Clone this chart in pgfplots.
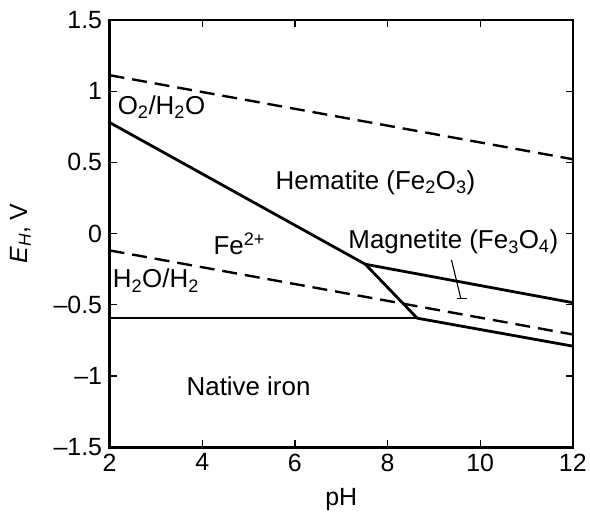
\documentclass[border=0pt]{standalone}
\usepackage{pgfplots}
\pgfplotsset{compat=1.18}
\usepackage{fontspec}
\setmainfont{Liberation Sans}
\begin{document}
\begin{tikzpicture}[font=\fontsize{25bp}{29bp}\selectfont]
\begin{axis}[
  scale only axis, width=465bp, height=429bp,
  xmin=2, xmax=12, ymin=-1.5, ymax=1.5,
  xtick={2,4,6,8,10,12},
  ytick={-1.5,-1,-0.5,0,0.5,1,1.5},
  yticklabels={\textendash1.5,\textendash1,\textendash0.5,0,0.5,1,1.5},
  /pgf/number format/assume math mode=true,
  tick align=inside,
  major tick length=7bp,
  axis line style={line width=2.4bp},
  tick style={line width=1.3bp, black},
  xlabel={pH},
  ylabel={\textit{E}\textsubscript{\textit{H}}, V},
  xticklabel style={yshift=-3bp},
  yticklabel style={xshift=-4bp},
  xlabel style={yshift=-10bp},
  ylabel style={yshift=16bp},
]
% water stability lines
\addplot[black, line width=2.4bp, dash pattern=on 15bp off 8bp] coordinates {(2,1.112) (12,0.522)};
\addplot[black, line width=2.4bp, dash pattern=on 15bp off 8bp] coordinates {(2,-0.118) (12,-0.708)};
% Hematite / Fe2+
\addplot[black, line width=2.8bp] coordinates {(2,0.78) (7.52,-0.215)};
% Hematite / Magnetite
\addplot[black, line width=2.8bp] coordinates {(7.52,-0.215) (12,-0.485)};
% Magnetite / Fe2+
\addplot[black, line width=2.8bp] coordinates {(7.52,-0.215) (8.63,-0.59)};
% Fe / Fe2+
\addplot[black, line width=2.8bp] coordinates {(2,-0.593) (8.63,-0.593)};
% Fe / Magnetite
\addplot[black, line width=2.8bp] coordinates {(8.63,-0.593) (12,-0.79)};
% leader for magnetite label
\draw[black, line width=1.1bp] (axis cs:9.38,-0.185) -- (axis cs:9.58,-0.453);
\draw[black, line width=1.1bp] (axis cs:9.49,-0.453) -- (axis cs:9.72,-0.453);
% labels
\begin{scope}[font=\fontsize{26bp}{30bp}\selectfont]
\node at (axis cs:3.12,0.89) {O\textsubscript{2}/H\textsubscript{2}O};
\node at (axis cs:7.74,0.36) {Hematite (Fe\textsubscript{2}O\textsubscript{3})};
\node at (axis cs:4.8,-0.07) {Fe\textsuperscript{2+}};
\node at (axis cs:9.42,-0.06) {Magnetite (Fe\textsubscript{3}O\textsubscript{4})};
\node at (axis cs:3.0,-0.33) {H\textsubscript{2}O/H\textsubscript{2}};
\node at (axis cs:5.0,-1.07) {Native iron};
\end{scope}
\end{axis}
\path ([yshift=20bp]current axis.north);
\path ([xshift=-110bp]current axis.west);
\end{tikzpicture}
\end{document}
